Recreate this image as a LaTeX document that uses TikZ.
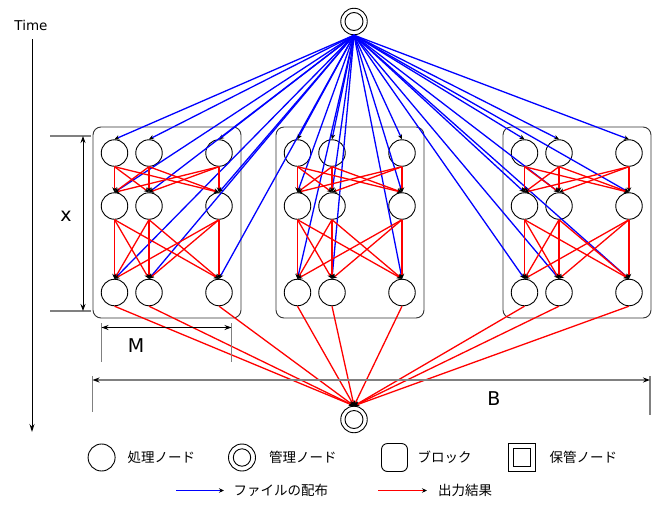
\documentclass[tikz,border=0pt]{standalone}
\usepackage{fontspec}
\setmainfont{DejaVu Sans}
\newfontfamily\jpfont{Noto Sans CJK JP}
\usetikzlibrary{arrows.meta}

\tikzset{
  proc/.style={circle, draw, line width=0.9pt, minimum size=26.5pt, inner sep=0pt},
  block/.style={draw=black!80, line width=0.9pt, rounded corners=8pt},
  fileedge/.style={blue, line width=1.3pt, -{Stealth[black, length=5pt, width=4.5pt]}},
  outedge/.style={red, line width=1.3pt, -{Stealth[black, length=5pt, width=4.5pt]}},
  extline/.style={gray, line width=1.3pt},
  dimline/.style={line width=0.9pt, {Stealth[length=7pt, width=5pt]}-{Stealth[length=7pt, width=5pt]}},
  biglabel/.style={font=\fontsize{19}{22}\selectfont, inner sep=0pt},
  legtext/.style={anchor=west, inner sep=0pt, font=\jpfont\fontsize{13.5}{16}\selectfont}
}

\begin{document}
\begin{tikzpicture}[x=1pt, y=-1pt]

  \useasboundingbox (0,0) rectangle (659,504);

  % Manager nodes
  \node[proc] (mtop) at (354,21.5) {};
  \draw[line width=0.9pt] (mtop) circle (9pt);
  \node[proc] (mbot) at (354,419.5) {};
  \draw[line width=0.9pt] (mbot) circle (9pt);

  % Blocks and processing nodes
  \foreach \b/\bx in {1/93,2/276,3/503} {
    \draw[block] (\bx,127) rectangle ++(148,191);
    \foreach \r/\ry in {1/153,2/206,3/292.5} {
      \foreach \c/\cx in {1/21.5,2/56,3/126} {
        \node[proc] (p\b\r\c) at (\bx+\cx,\ry) {};
      }
    }
  }

  % File distribution
  \foreach \b in {1,2,3}
    \foreach \r in {1,2,3}
      \foreach \c in {1,2,3}
        \draw[fileedge] (mtop.south) -- (p\b\r\c.north);

  % Results inside the blocks
  \foreach \b in {1,2,3}
    \foreach \r/\s in {1/2,2/3}
      \foreach \c in {1,2,3}
        \foreach \d in {1,2,3}
          \draw[outedge] (p\b\r\c.south) -- (p\b\s\d.north);

  % Results to the manager
  \foreach \b in {1,2,3}
    \foreach \c in {1,2,3}
      \draw[outedge] (p\b3\c.south) -- (mbot.north);

  % Time axis
  \node[inner sep=0pt, font=\fontsize{13.5}{16}\selectfont] (time) at (31,25) {Time};
  \coordinate (t0) at (32,39);
  \coordinate (t1) at (32,432);
  \draw[line width=0.9pt, -{Stealth[length=8pt, width=5pt]}] (t0) -- (t1);

  % Dimension x
  \coordinate (xa1) at (50,136);  \coordinate (xa2) at (91,136);
  \coordinate (xb1) at (50,311);  \coordinate (xb2) at (91,311);
  \coordinate (xt) at (83,136);   \coordinate (xu) at (83,311);
  \draw[extline] (xa1) -- (xa2);
  \draw[extline] (xb1) -- (xb2);
  \draw[dimline] (xt) -- (xu);
  \node[biglabel] (lx) at (66,216) {x};

  % Dimension M
  \coordinate (ma1) at (101.5,323); \coordinate (ma2) at (101.5,362);
  \coordinate (mb1) at (231.5,323); \coordinate (mb2) at (231.5,362);
  \coordinate (ml) at (101.5,327.5); \coordinate (mr) at (231.5,327.5);
  \draw[extline] (ma1) -- (ma2);
  \draw[extline] (mb1) -- (mb2);
  \draw[dimline] (ml) -- (mr);
  \node[biglabel] (lm) at (136,346) {M};

  % Dimension B
  \coordinate (ba1) at (92.5,376); \coordinate (ba2) at (92.5,412);
  \coordinate (bb1) at (650,376);  \coordinate (bb2) at (650,415);
  \coordinate (bl) at (92.5,380);  \coordinate (br) at (650,380);
  \draw[extline] (ba1) -- (ba2);
  \draw[extline] (bb1) -- (bb2);
  \draw[extline, {Stealth[black, length=7pt, width=5pt]}-{Stealth[black, length=7pt, width=5pt]}] (bl) -- (br);
  \node[biglabel] (lb) at (494,399) {B};

  % Legend, first row
  \node[proc, minimum size=27pt] (lgproc) at (101.6,457.5) {};
  \node[legtext] (lgproctxt) at (127.5,457.5) {処理ノード};
  \node[proc, minimum size=27pt] (lgmgr) at (242,457.5) {};
  \draw[line width=0.9pt] (lgmgr) circle (8.7pt);
  \node[legtext] (lgmgrtxt) at (269,457.5) {管理ノード};
  \node[draw, line width=0.9pt, rounded corners=6pt, minimum width=26pt, minimum height=28pt] (lgblock) at (394.5,457.5) {};
  \node[legtext] (lgblocktxt) at (417.5,457.5) {ブロック};
  \node[draw, line width=0.9pt, minimum width=27pt, minimum height=28pt] (lgstore) at (522,457.5) {};
  \node[draw, line width=0.9pt, minimum width=17pt, minimum height=18pt] (lgstorein) at (522,457.5) {};
  \node[legtext] (lgstoretxt) at (549.5,457.5) {保管ノード};

  % Legend, second row
  \coordinate (lga) at (176,490.5); \coordinate (lgb) at (224,490.5);
  \draw[fileedge] (lga) -- (lgb);
  \node[legtext] (lgfile) at (233.5,490.5) {ファイルの配布};
  \coordinate (lgc) at (378,490.5); \coordinate (lgd) at (427,490.5);
  \draw[outedge] (lgc) -- (lgd);
  \node[legtext] (lgout) at (438,490.5) {出力結果};

\end{tikzpicture}
\end{document}
